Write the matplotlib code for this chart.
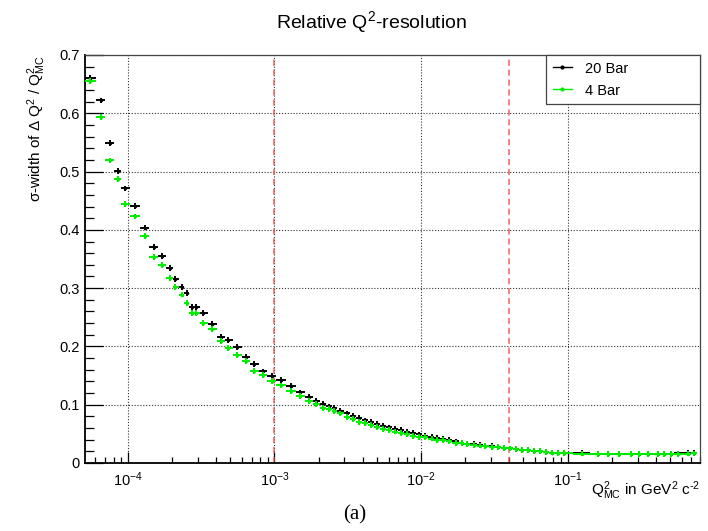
import numpy as np
import matplotlib
matplotlib.use('Agg')
import matplotlib.pyplot as plt
from matplotlib.lines import Line2D
from matplotlib.ticker import LogLocator, MultipleLocator, NullFormatter

plt.rcParams['font.family'] = ['Liberation Sans', 'DejaVu Sans']
plt.rcParams['mathtext.fontset'] = 'custom'
plt.rcParams['mathtext.rm'] = 'Liberation Sans'
plt.rcParams['mathtext.it'] = 'Liberation Sans:italic'
plt.rcParams['mathtext.sf'] = 'Liberation Sans'

# bin centres in Q^2_MC [GeV^2 c^-2]
q2 = [5.56e-5, 6.57e-5, 7.53e-5, 8.51e-5, 9.59e-5, 1.117e-4, 1.306e-4, 1.506e-4,
      1.715e-4, 1.935e-4, 2.112e-4, 2.35e-4, 2.52e-4, 2.75e-4, 2.92e-4, 3.26e-4,
      3.75e-4, 4.32e-4, 4.83e-4, 5.56e-4, 6.41e-4, 7.27e-4, 8.37e-4, 9.57e-4,
      1.10e-3, 1.30e-3, 1.50e-3, 1.73e-3, 1.93e-3, 2.15e-3, 2.37e-3, 2.56e-3,
      2.81e-3, 3.14e-3, 3.45e-3, 3.79e-3, 4.17e-3, 4.58e-3, 5.03e-3, 5.53e-3,
      6.08e-3, 6.68e-3, 7.34e-3, 8.07e-3, 8.87e-3, 9.75e-3, 1.07e-2, 1.18e-2,
      1.29e-2, 1.42e-2, 1.56e-2, 1.72e-2, 1.89e-2, 2.07e-2, 2.28e-2, 2.51e-2,
      2.75e-2, 3.03e-2, 3.33e-2, 3.66e-2, 4.02e-2, 4.42e-2, 4.86e-2, 5.34e-2,
      5.87e-2, 6.45e-2, 7.09e-2, 7.79e-2, 8.56e-2, 9.40e-2, 0.125, 0.160,
      0.188, 0.223, 0.270, 0.306, 0.352, 0.413, 0.454, 0.507, 0.566, 0.662, 0.727]

# sigma-width of dQ^2/Q^2, 20 bar setup
res_20bar = [0.660, 0.622, 0.549, 0.501, 0.471, 0.441, 0.404, 0.371,
             0.355, 0.335, 0.316, 0.302, 0.291, 0.268, 0.268, 0.258,
             0.238, 0.217, 0.211, 0.199, 0.182, 0.170, 0.157, 0.150,
             0.143, 0.132, 0.121, 0.114, 0.107, 0.101, 0.097, 0.094,
             0.090, 0.085, 0.081, 0.077, 0.073, 0.070, 0.067, 0.064,
             0.061, 0.058, 0.056, 0.053, 0.051, 0.049, 0.047, 0.045,
             0.043, 0.041, 0.039, 0.037, 0.035, 0.033, 0.032, 0.031,
             0.030, 0.029, 0.027, 0.026, 0.025, 0.024, 0.023, 0.022,
             0.021, 0.020, 0.019, 0.018, 0.018, 0.017, 0.0165, 0.0158,
             0.0155, 0.0154, 0.0154, 0.0155, 0.0156, 0.0158, 0.0160, 0.0161, 0.0163, 0.0165, 0.0167]

# 4 bar setup
res_4bar = [0.655, 0.593, 0.519, 0.487, 0.444, 0.423, 0.390, 0.354,
            0.339, 0.317, 0.302, 0.289, 0.274, 0.258, 0.258, 0.240,
            0.230, 0.209, 0.198, 0.186, 0.175, 0.158, 0.151, 0.140,
            0.133, 0.124, 0.115, 0.107, 0.101, 0.095, 0.092, 0.089,
            0.085, 0.079, 0.075, 0.071, 0.068, 0.065, 0.062, 0.059,
            0.057, 0.054, 0.052, 0.050, 0.047, 0.045, 0.044, 0.042,
            0.040, 0.039, 0.037, 0.035, 0.034, 0.032, 0.031, 0.030,
            0.029, 0.028, 0.027, 0.026, 0.025, 0.024, 0.023, 0.022,
            0.021, 0.020, 0.019, 0.018, 0.017, 0.017, 0.0162, 0.0155,
            0.0152, 0.0151, 0.0151, 0.0152, 0.0153, 0.0155, 0.0157, 0.0158, 0.0160, 0.0162, 0.0164]

y_ticks = [0, 0.1, 0.2, 0.3, 0.4, 0.5, 0.6, 0.7]
y_ticklabels = ['0', '0.1', '0.2', '0.3', '0.4', '0.5', '0.6', '0.7']
cut_lines = [1e-3, 0.04]

x = np.array(q2)
edges = np.sqrt(x[1:] * x[:-1])
lo = np.concatenate([[x[0] ** 2 / edges[0]], edges])
hi = np.concatenate([edges, [x[-1] ** 2 / edges[-1]]])
xerr = [x - lo, hi - x]

fig = plt.figure(figsize=(7.08, 5.31), dpi=100)
ax = fig.add_axes([85 / 708, 1 - 463 / 531, 615 / 708, 408 / 531])

ax.errorbar(x, res_20bar, xerr=xerr, yerr=0.005, fmt='.', color='k', ms=3,
            elinewidth=1.4, capsize=0, zorder=3)
ax.errorbar(x, res_4bar, xerr=xerr, yerr=0.005, fmt='.', color='#00ee00', ms=3,
            elinewidth=1.4, capsize=0, zorder=4)

for c in cut_lines:
    ax.axvline(c, color='#f25050', ls=(0, (4, 2.5)), lw=1.1, alpha=0.9, zorder=2)

ax.set_xscale('log')
ax.set_xlim(5.1e-5, 0.8)
ax.set_ylim(0, 0.7)
ax.set_yticks(y_ticks)
ax.set_yticklabels(y_ticklabels)
ax.yaxis.set_minor_locator(MultipleLocator(0.02))
ax.xaxis.set_major_locator(LogLocator(base=10, numticks=20))
ax.xaxis.set_minor_locator(LogLocator(base=10, subs=np.arange(2, 10), numticks=20))
ax.xaxis.set_minor_formatter(NullFormatter())

ax.grid(True, which='major', color='#333333', ls=(0, (1, 1.6)), lw=0.8, zorder=1)
ax.set_axisbelow(True)

ax.tick_params(axis='both', which='both', direction='in', top=False, right=False,
               labelsize=10.5, width=0.9)
ax.tick_params(axis='y', which='major', length=13, pad=4)
ax.tick_params(axis='y', which='minor', length=6.5)
ax.tick_params(axis='x', which='major', length=8, pad=5)
ax.tick_params(axis='x', which='minor', length=4.3)

for s in ['left', 'bottom']:
    ax.spines[s].set_linewidth(1.3)
for s in ['top', 'right']:
    ax.spines[s].set_linewidth(0.9)
    ax.spines[s].set_color('#444444')

ax.set_ylabel(r'σ-width of Δ Q$^2$ / Q$^2_{\mathrm{MC}}$', fontsize=11, loc='top')
ax.yaxis.set_label_coords(-37 / 615, 1.0)
ax.set_xlabel(r'Q$^2_{\mathrm{MC}}$ in GeV$^2$ c$^{\text{-2}}$', fontsize=11, loc='right')
ax.xaxis.set_label_coords(1.0, -0.04)

handles = [Line2D([], [], color='k', marker='.', ms=4, lw=1),
           Line2D([], [], color='#00ee00', marker='.', ms=4, lw=1)]
leg = ax.legend(handles, ['20 Bar', '4 Bar'], loc='upper left',
                bbox_to_anchor=(0.7496, 1.0, 0.2504, 0.0), mode='expand',
                borderaxespad=0, fancybox=False, edgecolor='#444444', framealpha=1,
                fontsize=10.5, handlelength=1.3, handletextpad=0.9, borderpad=0.45,
                labelspacing=0.55)
leg.get_frame().set_linewidth(0.9)

fig.text(372 / 708, 1 - 22 / 531, r'Relative Q$^2$-resolution', ha='center', va='center', fontsize=14)
fig.text(355 / 708, 1 - 515 / 531, '(a)', ha='center', va='center', fontsize=15,
         family=['Liberation Serif', 'DejaVu Serif'])

fig.savefig('out.png', dpi=100)
